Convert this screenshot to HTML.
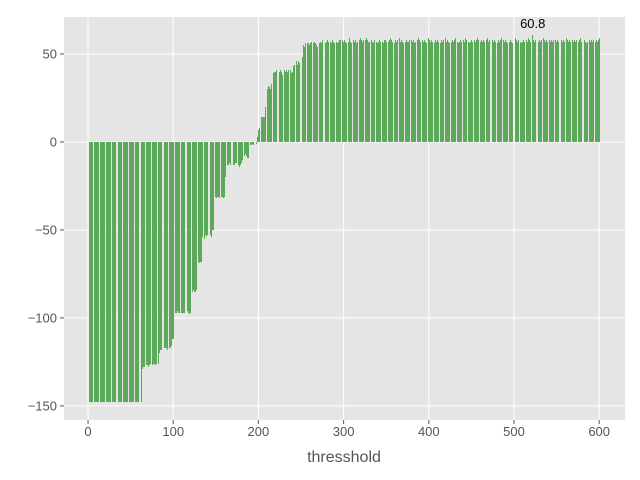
<!DOCTYPE html>
<html><head><meta charset="utf-8"><style>
html,body{margin:0;padding:0;background:#fff;}
svg{display:block;font-family:"Liberation Sans","DejaVu Sans",sans-serif;}
</style></head><body>
<svg id="chart" width="640" height="480" viewBox="0 0 640 480" xmlns="http://www.w3.org/2000/svg">
<rect x="0" y="0" width="640" height="480" fill="#ffffff"/>
<rect x="64" y="17" width="561" height="403" fill="#e5e5e5"/>
<g id="grid"></g>
<g id="bars" shape-rendering="crispEdges"></g>
<g id="axes"></g>
<text x="344" y="462" text-anchor="middle" font-size="16" fill="#555">thresshold</text>
</svg>
<script>
const xTicks = [0,100,200,300,400,500,600];
const yTicks = [50,0,-50,-100,-150];
const values = [
-148,-148,-148,-148,-148,-148,-148,-148,-148,-148,-148,-148,-148,-148,-148,-148,-148,-148,-148,-148,
-148,-148,-148,-148,-148,-148,-148,-148,-148,-148,-148,-148,-148,-148,-148,-148,-148,-148,-148,-148,
-148,-148,-148,-148,-148,-148,-148,-148,-148,-148,-148,-148,-148,-148,-148,-148,-148,-148,-148,-148,
-148,-148,-148,-148,
-129,-128,-128,-127,-128,-127,-127,-128,-127,-126,-127,-127,-127,-126,-126,-127,-126,-126,-125,-126,-120,
-118,-118,-117,-117,-118,-117,-117,-117,-118,-117,-118,-117,-117,-116,-112,-112,
-98,-97,-97,-97,-96,-97,-97,-97,-96,-97,-97,-97,-97,-98,-97,-97,-96,-97,-98,-97,-90,
-85,-85,-84,-85,-85,-84,
-68,-68,-68,-69,-68,-68,
-54,-53,-53,-55,-53,-54,-53,-53,-52,-53,-53,-54,-50,-50,
-32,-31,-31,-32,-31,-31,-32,-31,-30,-31,-31,-32,-31,
-20,-14,-13,-13,-13,-12,-13,-13,-12,-13,-13,-13,-12,-12,-13,-14,-13,-14,-13,-12,-10,-9,
-8,-8,-7,-8,-9,-9,-3,-2,
-2,-2,-1,-2,-1,-1,-1,-1,
3,7,8,9,9,
14,14,14,14,20,
29,31,30,32,31,30,33,
40,40,39,40,40,41,40,39,41,40,41,40,38,40,42,41,40,41,40,41,40,42,41,39,40,43,44,42,
45,46,44,46,45,47,45,46,48,
55,54,56,55,55,56,56,55,56,57,55,56,56,57,56,55,54,56,57,56,
57,56,58,57,58,57,56,57,58,57,57,58,57,56,58,57,56,58,57,57,
56,57,58,58,57,59,58,57,58,57,56,57,58,57,59,57,56,58,57,58,
57,58,56,57,58,57,58,59,58,57,58,56,57,58,59,58,57,57,58,57,
58,57,56,58,57,58,57,56,57,58,57,57,58,57,56,58,58,57,58,57,
57,58,59,58,57,58,57,56,58,57,58,57,58,59,57,58,57,56,57,58,
57,58,57,57,58,59,57,58,57,58,56,57,58,57,58,59,58,57,56,58,
58,57,58,57,56,57,58,59,58,57,58,57,58,57,56,58,57,58,57,58,
57,56,58,57,58,57,58,59,57,58,57,56,57,58,57,58,57,58,59,57,
58,57,56,57,58,57,58,57,58,57,59,58,57,58,57,56,57,58,57,58,
57,58,57,58,59,58,57,56,57,58,57,58,57,58,57,58,59,57,58,57,
56,57,58,57,58,57,58,57,56,58,57,58,59,58,57,58,57,58,57,56,
57,58,57,58,57,56,58,57,58,59,58,57,58,57,58,57,56,57,58,57,
58,57,58,57,59,58,57,58,57,60.8,58,57,58,57,56,58,57,58,57,58,
57,58,59,58,57,58,57,56,57,58,57,58,57,58,59,57,58,57,58,57,
58,57,56,58,57,58,57,58,57,59,58,57,58,57,56,57,58,57,58,57,
58,57,58,57,58,59,57,56,58,57,58,57,56,57,58,57,58,57,58,57,
58,57,58,57,58,57,58,59
];
const startThreshold = 0;

const NS = "http://www.w3.org/2000/svg";
const X0 = 64, X1 = 625, Y0 = 17, Y1 = 420;
const xMin = -28.2, xMax = 630.3, yMin = -158, yMax = 71;
function sx(v){ return X0 + (v - xMin) / (xMax - xMin) * (X1 - X0); }
function sy(v){ return Y1 - (v - yMin) / (yMax - yMin) * (Y1 - Y0); }
function mk(tag, attrs, parent){ const e = document.createElementNS(NS, tag); for (const k in attrs) e.setAttribute(k, attrs[k]); parent.appendChild(e); return e; }

const grid = document.getElementById('grid');
const axes = document.getElementById('axes');
xTicks.forEach(t => {
  const g = mk('line', {x1:sx(t), x2:sx(t), y1:Y0, y2:Y1, stroke:'#fff', 'stroke-width':1}, grid);
  
  
  const tk = mk('line', {x1:sx(t), x2:sx(t), y1:Y1, y2:Y1+4, stroke:'#555', 'stroke-width':1}, axes);
  
  
  const lb = mk('text', {x:sx(t), y:Y1+16, 'text-anchor':'middle', 'font-size':13, fill:'#555'}, axes);
  lb.textContent = String(t);
  
  
});
yTicks.forEach(t => {
  const g = mk('line', {x1:X0, x2:X1, y1:sy(t), y2:sy(t), stroke:'#fff', 'stroke-width':1}, grid);
  
  
  const tk = mk('line', {x1:X0-4, x2:X0, y1:sy(t), y2:sy(t), stroke:'#555', 'stroke-width':1}, axes);
  
  
  const lb = mk('text', {x:X0-7, y:sy(t)+4.5, 'text-anchor':'end', 'font-size':13, fill:'#555'}, axes);
  lb.textContent = t < 0 ? '\u2212' + Math.abs(t) : String(t);
  
  
});

const bars = document.getElementById('bars');
let maxI = 0;
values.forEach((v, i) => {
  const t = startThreshold + i;
  if (v > values[maxI]) maxI = i;
  const fa = sx(t - 0.4), fb = sx(t + 0.4), fn = sx(t + 0.6);
  const xa = Math.round(fa);
  let xr = Math.round(fn);
  // leave a one-pixel gap when a pixel center falls in the inter-bar space
  if (Math.floor(fn - 0.5) >= Math.ceil(fb - 0.5) && Math.floor(fn - 0.5) + 0.5 > fb) xr -= 1;
  const w = Math.max(xr - xa, 0);
  if (w === 0) return;
  const ya = Math.round(sy(Math.max(v, 0))), yb = Math.round(sy(Math.min(v, 0)));
  const r = mk('rect', {x:xa, y:ya, width:w, height:Math.max(yb - ya, 1), fill:'#5ca95c'}, bars);
  
  
});
const ann = mk('text', {x:sx(startThreshold + maxI), y:sy(values[maxI]) - 7, 'text-anchor':'middle', 'font-size':13, fill:'#000'}, axes);
ann.textContent = String(values[maxI]);


</script>
</body></html>
